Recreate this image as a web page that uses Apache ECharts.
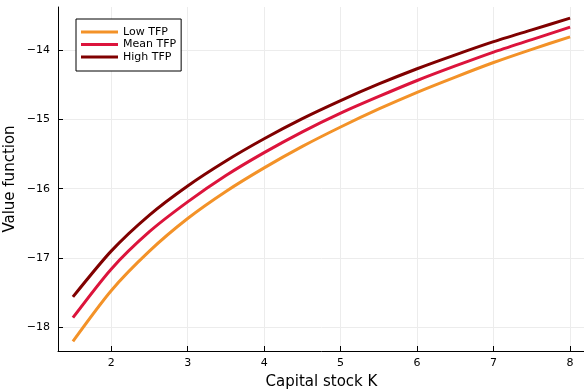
<!DOCTYPE html>
<html>
<head>
<meta charset="utf-8">
<script src="https://cdn.jsdelivr.net/npm/echarts@6/dist/echarts.min.js"></script>
<style>
  html, body { margin: 0; padding: 0; background: #fff; }
  #chart { width: 584px; height: 391px; }
</style>
</head>
<body>
<div id="chart"></div>
<script>
// Capital grid and value function for each productivity state
const capital = [1.5, 2, 2.5, 3, 3.5, 4, 4.5, 5, 5.5, 6, 6.5, 7, 7.5, 8];
const valueLow  = [-18.20, -17.47, -16.90, -16.43, -16.04, -15.70, -15.39, -15.11, -14.85, -14.61, -14.39, -14.18, -13.99, -13.81];
const valueMean = [-17.86, -17.16, -16.62, -16.19, -15.81, -15.48, -15.18, -14.91, -14.67, -14.44, -14.23, -14.03, -13.85, -13.67];
const valueHigh = [-17.56, -16.90, -16.38, -15.96, -15.60, -15.28, -14.99, -14.73, -14.49, -14.27, -14.07, -13.88, -13.71, -13.54];
const seriesNames = ['Low TFP', 'Mean TFP', 'High TFP'];
const seriesColors = ['#f39228', '#dc143c', '#800000'];

const xTicks = [2, 3, 4, 5, 6, 7, 8];
const yTicks = [-18, -17, -16, -15, -14];

const font = 'DejaVu Sans';
const minus = v => String(v).replace('-', '\u2212');

function pairs(ys) {
  return capital.map((k, i) => [k, ys[i]]);
}

const chart = echarts.init(document.getElementById('chart'), null, { renderer: 'canvas' });

const axisCommon = {
  type: 'value',
  axisLine: { show: true, onZero: false, lineStyle: { color: '#000', width: 1 } },
  axisTick: { show: true, inside: true, length: 5, lineStyle: { color: '#000', width: 1 } },
  splitLine: { show: true, lineStyle: { color: '#ececec', width: 1 } },
  nameLocation: 'middle',
  nameMoveOverlap: false,
  nameTextStyle: { fontFamily: font, fontSize: 15, color: '#000' }
};

chart.setOption({
  animation: false,
  backgroundColor: '#fff',
  grid: { left: 58, right: -1, top: 7, bottom: 40, containLabel: false, outerBoundsMode: 'none' },
  xAxis: Object.assign({}, axisCommon, {
    min: 1.305,
    max: 8.195,
    name: 'Capital stock K',
    nameGap: 24,
    axisTick: Object.assign({}, axisCommon.axisTick, { customValues: xTicks }),
    axisLabel: { customValues: xTicks, margin: 7, fontFamily: font, fontSize: 11, color: '#000', formatter: minus }
  }),
  yAxis: Object.assign({}, axisCommon, {
    min: -18.34,
    max: -13.38,
    name: 'Value function',
    nameGap: 40,
    axisTick: Object.assign({}, axisCommon.axisTick, { customValues: yTicks }),
    axisLabel: { customValues: yTicks, margin: 8, fontFamily: font, fontSize: 11, color: '#000', formatter: minus }
  }),
  legend: {
    orient: 'vertical',
    left: 76,
    top: 19,
    padding: [7, 5, 8, 5],
    itemGap: 0.5,
    itemWidth: 37,
    itemHeight: 3,
    icon: 'rect',
    backgroundColor: '#fff',
    borderColor: '#000',
    borderWidth: 1,
    borderRadius: 0,
    textStyle: { fontFamily: font, fontSize: 11, lineHeight: 12, color: '#000' },
    data: seriesNames
  },
  series: [valueLow, valueMean, valueHigh].map((ys, i) => ({
    name: seriesNames[i],
    type: 'line',
    data: pairs(ys),
    smooth: 0.25,
    showSymbol: false,
    lineStyle: { width: 3, color: seriesColors[i] },
    itemStyle: { color: seriesColors[i] }
  }))
});
</script>
</body>
</html>
